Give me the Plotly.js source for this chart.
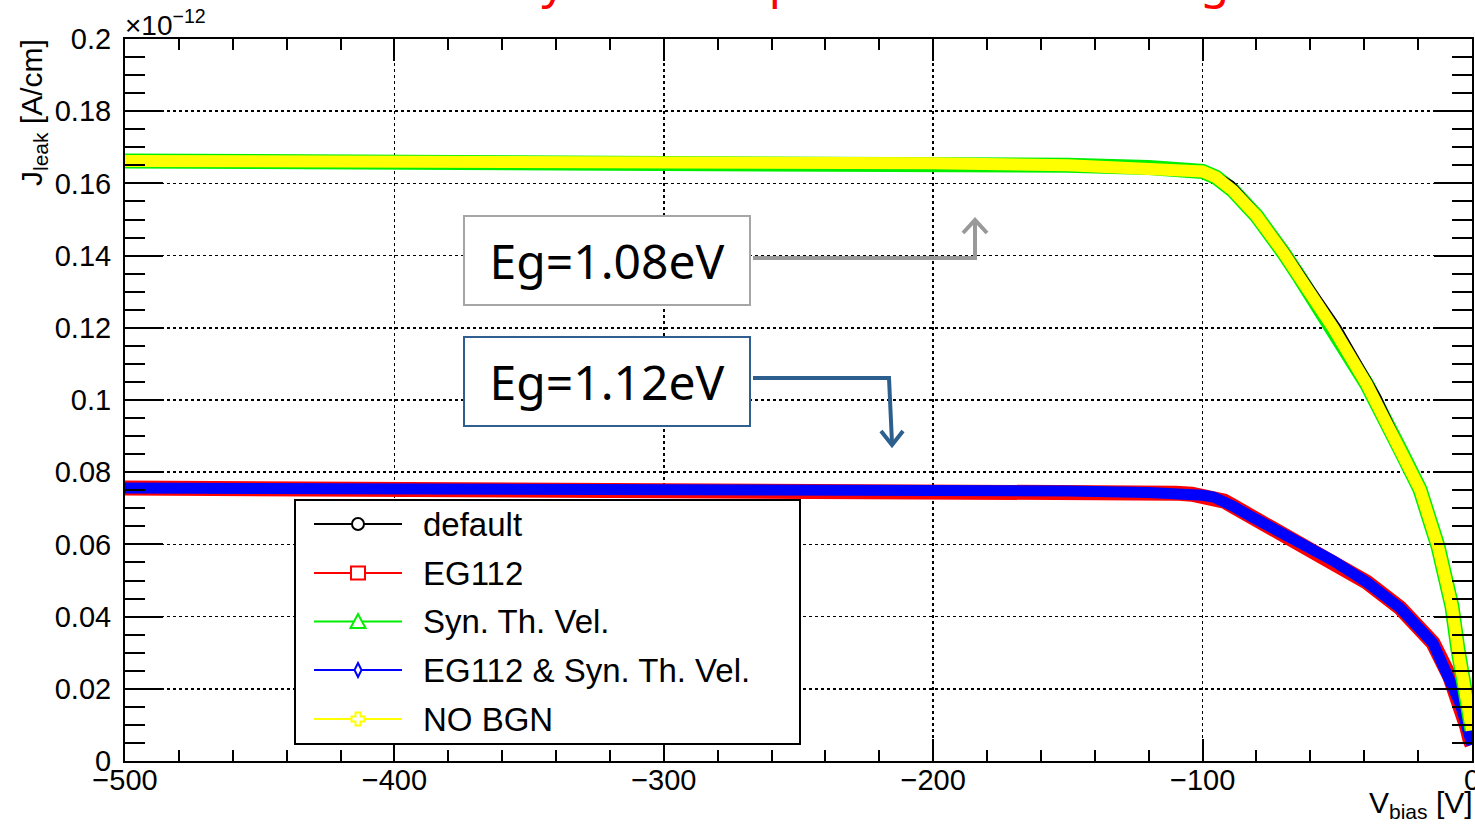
<!DOCTYPE html>
<html>
<head>
<meta charset="utf-8">
<script src="https://cdn.plot.ly/plotly-3.0.1.min.js"></script>
<style>html,body{margin:0;padding:0;background:#fff;}#chart{width:1475px;height:828px;}</style>
</head>
<body>
<div id="chart"></div>
<script>
// Values in units of 1e-12 A/cm
const vbiasDefault = [-500,-400,-300,-200,-150,-120,-105,-100,-95,-88.7,-80,-68.7,-49,-34.1,-25.6,-18.6,-11.2,-6,-2.4,0];
const jDefault     = [0.1662,0.1661,0.1659,0.1656,0.1651,0.1646,0.1643,0.1641,0.1630,0.1603,0.1530,0.1418,0.1204,0.1010,0.0871,0.0752,0.0594,0.0427,0.0216,0.0110];

const vbiasUpper = [-500,-400,-300,-200,-150,-120,-105,-100,-95,-88.7,-80,-76,-70,-63.8,-51.6,-39,-26.7,-19.3,-12.6,-7.4,-5.2,-3.3,-1.5,0];
const jSynThVel  = [0.1662,0.1661,0.1659,0.1656,0.1650,0.1644,0.1638,0.1633,0.1617,0.1580,0.1510,0.1472,0.1408,0.1338,0.1201,0.1043,0.0863,0.0752,0.0594,0.0427,0.0308,0.0216,0.0133,0.0085];
const jNoBGN     = [0.1662,0.1661,0.1659,0.1656,0.1650,0.1644,0.1638,0.1633,0.1617,0.1580,0.1510,0.1472,0.1408,0.1338,0.1201,0.1043,0.0863,0.0752,0.0594,0.0427,0.0308,0.0216,0.0133,0.0085];

const vbiasLower = [-500,-400,-300,-200,-150,-120,-110,-104,-100,-96,-92,-88.7,-82.4,-76,-63.8,-51.6,-39,-26.7,-14.5,-8.2,-4.5,-1.9,-0.7,0];
const jEG112     = [0.0756,0.0755,0.0754,0.0751,0.0748,0.0744,0.0742,0.0739,0.0736,0.0731,0.0720,0.0706,0.0679,0.0653,0.0605,0.0555,0.0495,0.0424,0.0327,0.0233,0.0161,0.0094,0.0058,0.0045];
const jEG112Syn  = [0.0756,0.0755,0.0754,0.0751,0.0748,0.0744,0.0742,0.0739,0.0736,0.0731,0.0720,0.0706,0.0679,0.0653,0.0605,0.0555,0.0495,0.0424,0.0327,0.0233,0.0161,0.0094,0.0058,0.0045];

const seriesNames  = ['default','EG112','Syn. Th. Vel.','EG112 & Syn. Th. Vel.','NO BGN'];
const seriesColors = ['#000000','#ff0000','#00ee00','#0000ff','#ffff00'];
const xTickVals = [-500,-400,-300,-200,-100,0];

const W = 1475, H = 828, L = 125, R = 1472, T = 39, B = 761;
const px = v => (v - L) / (R - L);
const py = v => (B - v) / (B - T);

const traces = [
  {x: vbiasLower, y: jEG112, name: seriesNames[1], mode: 'lines', line: {color: seriesColors[1], width: 15}, hoverinfo: 'skip'},
  {x: vbiasLower, y: jEG112Syn, name: seriesNames[3], mode: 'lines', line: {color: seriesColors[3], width: 11}, hoverinfo: 'skip'},
  {x: vbiasUpper, y: jSynThVel, name: seriesNames[2], mode: 'lines', line: {color: seriesColors[2], width: 15}, hoverinfo: 'skip'},
  {x: vbiasDefault, y: jDefault, name: seriesNames[0], mode: 'lines', line: {color: seriesColors[0], width: 2.5}, hoverinfo: 'skip'},
  {x: vbiasUpper, y: jNoBGN, name: seriesNames[4], mode: 'lines', line: {color: seriesColors[4], width: 12}, hoverinfo: 'skip'}
];

const font = 'Liberation Sans, Arial, sans-serif';

// ---- legend box drawn in pixel space ----
const legBox = {x0: 295, y0: 500, x1: 800, y1: 744};
const legRows = [524, 573, 621.5, 670, 719];
const legLine = {x0: 314, x1: 402, mx: 358, tx: 421};
const shapes = [];
const rectPx = (x0, y0, x1, y1, extra) => Object.assign({type: 'rect', xref: 'paper', yref: 'paper', layer: 'above',
  x0: px(x0), x1: px(x1), y0: py(y1), y1: py(y0)}, extra);
const pathPx = (pts, close, color, width, fill) => ({type: 'path', xref: 'paper', yref: 'paper', layer: 'above',
  path: pts.map((p, i) => (i ? 'L' : 'M') + px(p[0]) + ',' + py(p[1])).join(' ') + (close ? ' Z' : ''),
  line: {color: color, width: width}, fillcolor: fill || 'rgba(0,0,0,0)'});

shapes.push(rectPx(legBox.x0, legBox.y0, legBox.x1, legBox.y1, {fillcolor: '#fff', line: {color: '#000', width: 2}}));
legRows.forEach((ry, i) => {
  shapes.push(pathPx([[legLine.x0, ry], [legLine.x1, ry]], false, seriesColors[i], 2));
});
const mx = legLine.mx;
shapes.push({type: 'circle', xref: 'paper', yref: 'paper', layer: 'above',
  x0: px(mx - 6), x1: px(mx + 6), y0: py(legRows[0] + 6), y1: py(legRows[0] - 6),
  fillcolor: '#fff', line: {color: seriesColors[0], width: 2}});
shapes.push(rectPx(mx - 7, legRows[1] - 6.5, mx + 7, legRows[1] + 6.5, {fillcolor: '#fff', line: {color: seriesColors[1], width: 2}}));
shapes.push(pathPx([[mx - 7.5, legRows[2] + 6.5], [mx + 7.5, legRows[2] + 6.5], [mx, legRows[2] - 7.5]], true, seriesColors[2], 2, '#fff'));
shapes.push(pathPx([[mx, legRows[3] - 7], [mx + 3.5, legRows[3]], [mx, legRows[3] + 7], [mx - 3.5, legRows[3]]], true, seriesColors[3], 2, '#fff'));
(function () {
  const c = legRows[4], a = 6.5, w = 2.5;
  shapes.push(pathPx([[mx - w, c - a], [mx + w, c - a], [mx + w, c - w], [mx + a, c - w], [mx + a, c + w], [mx + w, c + w],
    [mx + w, c + a], [mx - w, c + a], [mx - w, c + w], [mx - a, c + w], [mx - a, c - w], [mx - w, c - w]], true, seriesColors[4], 2, '#fff'));
})();

// Eg arrows
shapes.push(pathPx([[753, 258], [975, 258], [975, 221]], false, '#999999', 4));
shapes.push(pathPx([[963, 233], [975, 220], [987, 233]], false, '#999999', 4));
shapes.push(pathPx([[753, 378], [889, 378], [892, 443]], false, '#2d5f8e', 4));
shapes.push(pathPx([[881, 431], [892, 445], [903, 431]], false, '#2d5f8e', 4));

const annotations = [
  {xref: 'paper', yref: 'paper', x: px(803), y: py(14.5), xanchor: 'center', yanchor: 'bottom',
   text: 'The only relevant parameter here is Eg', showarrow: false,
   font: {family: 'Noto Sans, sans-serif', size: 47, color: '#ff0000'}},
  {xref: 'paper', yref: 'paper', x: px(123), y: py(43), xanchor: 'left', yanchor: 'bottom',
   text: '×10<sup>−12</sup>', showarrow: false, font: {family: font, size: 28, color: '#000'}},
  {xref: 'paper', yref: 'paper', x: px(33), y: py(113), xanchor: 'center', yanchor: 'middle', textangle: -90,
   text: 'J<sub>leak</sub> [A/cm]', showarrow: false, font: {family: font, size: 30, color: '#000'}},
  {xref: 'paper', yref: 'paper', x: px(1475), y: py(804), xanchor: 'right', yanchor: 'middle',
   text: 'V<sub>bias</sub> [V]', showarrow: false, font: {family: font, size: 30, color: '#000'}},
  {xref: 'paper', yref: 'paper', x: px(607), y: py(260), xanchor: 'center', yanchor: 'middle',
   text: 'Eg=1.08eV', showarrow: false, width: 284, height: 87, bgcolor: '#fff',
   bordercolor: '#a6a6a6', borderwidth: 2, borderpad: 0,
   font: {family: 'Noto Sans, sans-serif', size: 48, color: '#000'}},
  {xref: 'paper', yref: 'paper', x: px(607), y: py(381), xanchor: 'center', yanchor: 'middle',
   text: 'Eg=1.12eV', showarrow: false, width: 284, height: 87, bgcolor: '#fff',
   bordercolor: '#2f5f8f', borderwidth: 2, borderpad: 0,
   font: {family: 'Noto Sans, sans-serif', size: 48, color: '#000'}}
];
legRows.forEach((ry, i) => {
  annotations.push({xref: 'paper', yref: 'paper', x: px(legLine.tx), y: py(ry), xanchor: 'left', yanchor: 'middle',
    text: seriesNames[i], showarrow: false, font: {family: font, size: 33, color: '#000'}});
});

const layout = {
  width: W, height: H,
  margin: {l: L, r: W - R, t: T, b: H - B, pad: 0},
  paper_bgcolor: '#fff', plot_bgcolor: '#fff',
  font: {family: font, color: '#000', size: 29},
  showlegend: false,
  xaxis: {
    range: [-500, 0], tickvals: xTickVals, ticks: 'inside', ticklen: 22, tickwidth: 2, tickcolor: '#000',
    showline: true, linewidth: 2, linecolor: '#000', mirror: 'ticks',
    showgrid: true, gridcolor: '#000', griddash: 'dot', gridwidth: 1.5,
    zeroline: false, tickfont: {family: font, size: 29}, ticklabelstandoff: -8, ticklabeloverflow: 'allow',
    minor: {dtick: 20, ticks: 'inside', ticklen: 11, tickwidth: 2, tickcolor: '#000', showgrid: false}
  },
  yaxis: {
    range: [0, 0.2], dtick: 0.02, tick0: 0, ticks: 'inside', ticklen: 38, tickwidth: 2, tickcolor: '#000',
    showline: true, linewidth: 2, linecolor: '#000', mirror: 'ticks',
    showgrid: true, gridcolor: '#000', griddash: 'dot', gridwidth: 1.5,
    zeroline: false, tickfont: {family: font, size: 29}, ticklabelstandoff: 6, ticklabeloverflow: 'allow',
    minor: {dtick: 0.005, ticks: 'inside', ticklen: 20, tickwidth: 2, tickcolor: '#000', showgrid: false}
  },
  annotations: annotations,
  shapes: shapes
};

Plotly.newPlot('chart', traces, layout, {staticPlot: true, displayModeBar: false});
</script>
</body>
</html>
